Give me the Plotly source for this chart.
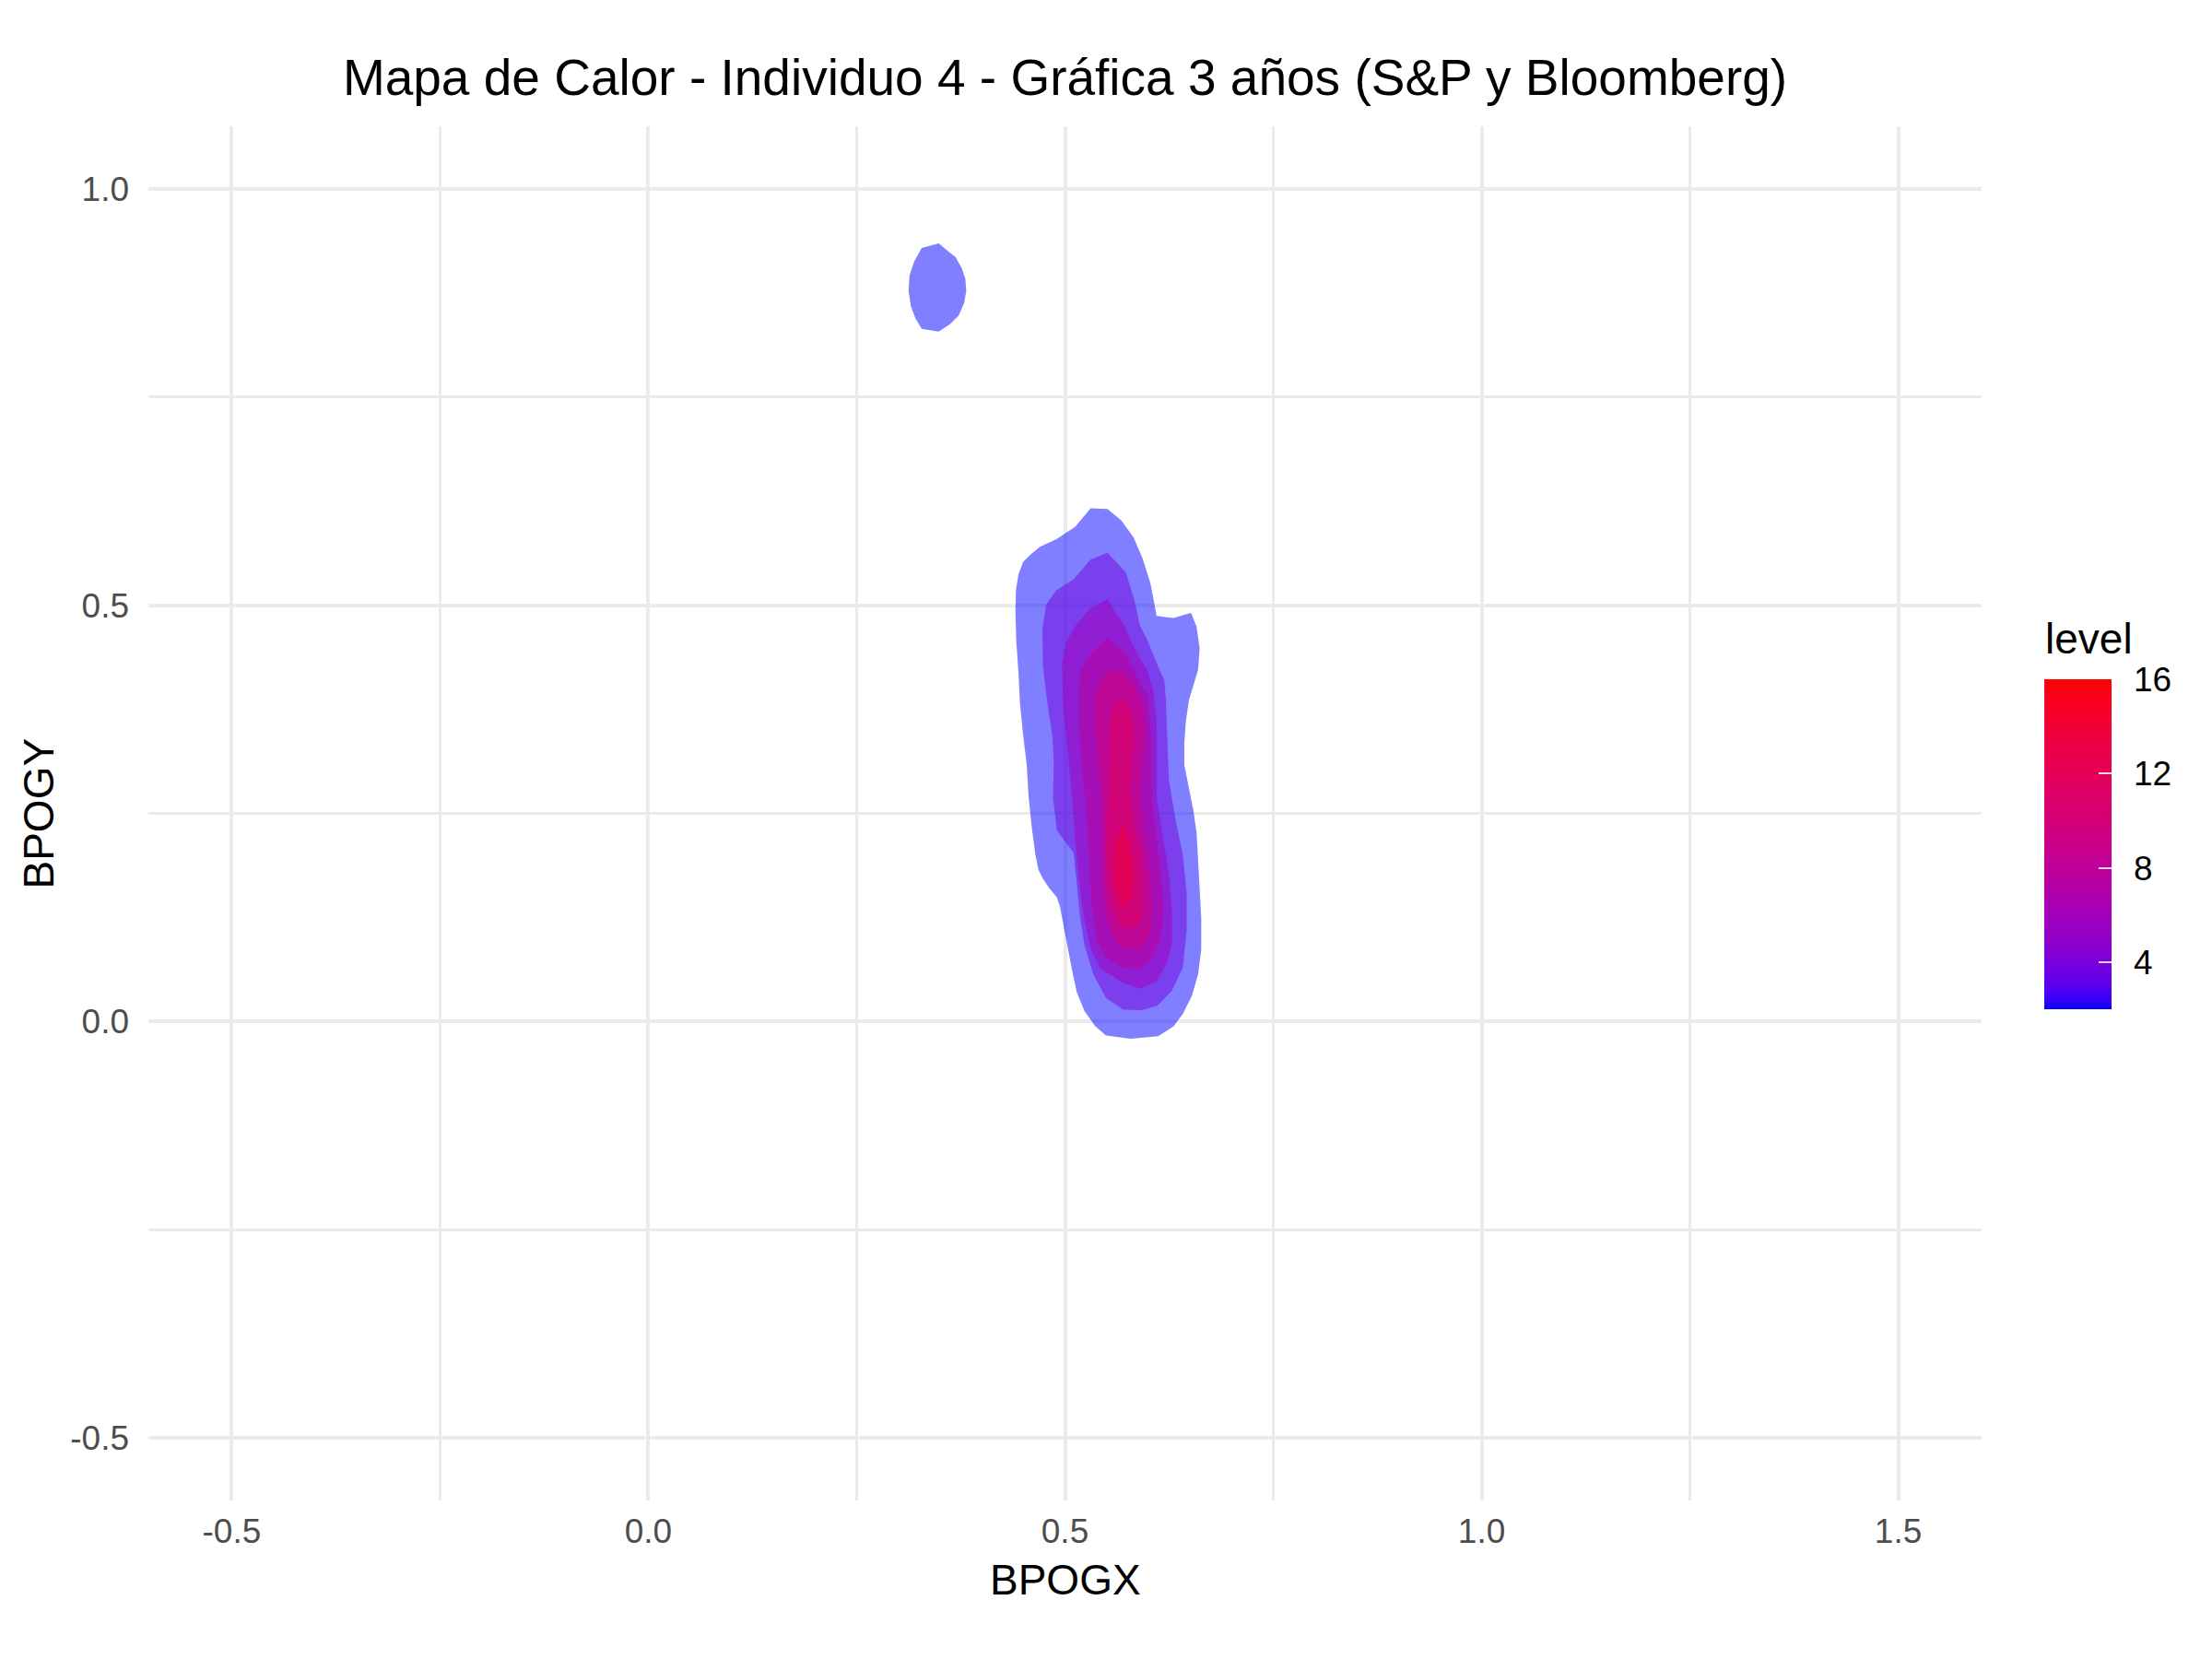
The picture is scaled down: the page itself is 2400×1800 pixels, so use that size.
import plotly.graph_objects as go

# ---------------- data ----------------
level_values = [2, 4, 6, 8, 10, 12, 14]
colorbar_ticks = [4, 8, 12, 16]
colorbar_range = [2, 16]

x_ticks = [-0.5, 0.0, 0.5, 1.0, 1.5]
x_tick_labels = ["-0.5", "0.0", "0.5", "1.0", "1.5"]
y_ticks = [-0.5, 0.0, 0.5, 1.0]
y_tick_labels = ["-0.5", "0.0", "0.5", "1.0"]
minor_x = [-0.25, 0.25, 0.75, 1.25]
minor_y = [-0.25, 0.25, 0.75]

# level 2 : main region
lvl2_x = [0.5308, 0.5511, 0.5677, 0.5824, 0.5934, 0.6026, 0.6100, 0.6303, 0.6513, 0.6579,
          0.6616, 0.6598, 0.6542, 0.6487, 0.6450, 0.6432, 0.6432, 0.6487, 0.6542, 0.6579,
          0.6598, 0.6616, 0.6635, 0.6635, 0.6598, 0.6524, 0.6413, 0.6303, 0.6118, 0.5787,
          0.5492, 0.5363, 0.5234, 0.5142, 0.5087, 0.5031, 0.4976, 0.4939, 0.4902, 0.4810,
          0.4736, 0.4681, 0.4644, 0.4600, 0.4563, 0.4541, 0.4497, 0.4460, 0.4442, 0.4416,
          0.4405, 0.4412, 0.4442, 0.4497, 0.4589, 0.4700, 0.4902, 0.5050, 0.5123]
lvl2_y = [0.6163, 0.6155, 0.6015, 0.5812, 0.5554, 0.5258, 0.4871, 0.4845, 0.4908, 0.4742,
          0.4483, 0.4225, 0.4040, 0.3856, 0.3597, 0.3339, 0.3080, 0.2785, 0.2527, 0.2268,
          0.1973, 0.1604, 0.1235, 0.0866, 0.0570, 0.0312, 0.0090, -0.0057, -0.0175, -0.0205,
          -0.0168, -0.0057, 0.0127, 0.0349, 0.0607, 0.0902, 0.1161, 0.1382, 0.1493, 0.1604,
          0.1715, 0.1825, 0.2010, 0.2342, 0.2711, 0.3080, 0.3450, 0.3819, 0.4188, 0.4557,
          0.4926, 0.5185, 0.5369, 0.5517, 0.5609, 0.5701, 0.5794, 0.5886, 0.5941]

# level 2 : small island near the top
island2_x = [0.3281, 0.3483, 0.3594, 0.3687, 0.3760, 0.3804, 0.3815, 0.3789, 0.3723, 0.3613,
             0.3483, 0.3281, 0.3207, 0.3151, 0.3123, 0.3134, 0.3189]
island2_y = [0.9289, 0.9344, 0.9252, 0.9178, 0.9049, 0.8920, 0.8772, 0.8625, 0.8477, 0.8367,
             0.8285, 0.8318, 0.8440, 0.8588, 0.8772, 0.8957, 0.9123]

lvl4_x = [0.5510, 0.5695, 0.5732, 0.5842, 0.5897, 0.5989, 0.6063, 0.6118, 0.6192, 0.6211,
          0.6229, 0.6247, 0.6321, 0.6413, 0.6461, 0.6461, 0.6413, 0.6284, 0.6111, 0.5916,
          0.5695, 0.5492, 0.5345, 0.5234, 0.5179, 0.5142, 0.5105, 0.4902, 0.4858, 0.4865,
          0.4847, 0.4791, 0.4736, 0.4729, 0.4773, 0.4895, 0.5105, 0.5308]
lvl4_y = [0.5630, 0.5436, 0.5391, 0.5029, 0.4758, 0.4577, 0.4397, 0.4261, 0.4103, 0.3854,
          0.3357, 0.2904, 0.2453, 0.2002, 0.1549, 0.1096, 0.0645, 0.0373, 0.0193, 0.0134,
          0.0147, 0.0283, 0.0554, 0.0916, 0.1277, 0.1639, 0.2023, 0.2295, 0.2679, 0.3130,
          0.3447, 0.3809, 0.4261, 0.4713, 0.5007, 0.5178, 0.5310, 0.5549]

lvl6_x = [0.5510, 0.5602, 0.5713, 0.5787, 0.5879, 0.5989, 0.6063, 0.6100, 0.6100, 0.6100,
          0.6174, 0.6247, 0.6284, 0.6284, 0.6229, 0.6100, 0.5916, 0.5695, 0.5418, 0.5308,
          0.5216, 0.5160, 0.5123, 0.5087, 0.5031, 0.4976, 0.4965, 0.5013, 0.5142, 0.5308]
lvl6_y = [0.5074, 0.4916, 0.4758, 0.4577, 0.4397, 0.4216, 0.3945, 0.3583, 0.3130, 0.2679,
          0.2227, 0.1775, 0.1322, 0.0961, 0.0712, 0.0486, 0.0396, 0.0464, 0.0645, 0.0871,
          0.1322, 0.1775, 0.2182, 0.2679, 0.3266, 0.3809, 0.4306, 0.4555, 0.4780, 0.4961]

lvl8_x = [0.5499, 0.5713, 0.5842, 0.5934, 0.5990, 0.6037, 0.6037, 0.6063, 0.6111, 0.6155,
          0.6185, 0.6148, 0.6045, 0.5897, 0.5676, 0.5492, 0.5374, 0.5326, 0.5300, 0.5282,
          0.5263, 0.5227, 0.5190, 0.5168, 0.5168, 0.5179, 0.5308]
lvl8_y = [0.4600, 0.4442, 0.4193, 0.3990, 0.3936, 0.3382, 0.2829, 0.2460, 0.2091, 0.1722,
          0.1353, 0.0984, 0.0762, 0.0614, 0.0652, 0.0762, 0.0984, 0.1353, 0.1722, 0.2091,
          0.2460, 0.2829, 0.3198, 0.3567, 0.3936, 0.4195, 0.4419]

lvl10_x = [0.5492, 0.5713, 0.5816, 0.5890, 0.5942, 0.5956, 0.5934, 0.5905, 0.5905, 0.5942,
           0.6001, 0.6037, 0.6045, 0.6008, 0.5905, 0.5713, 0.5603, 0.5522, 0.5474, 0.5455,
           0.5448, 0.5448, 0.5426, 0.5389, 0.5363, 0.5363, 0.5411]
lvl10_y = [0.4195, 0.4195, 0.4066, 0.3899, 0.3678, 0.3420, 0.3125, 0.2829, 0.2571, 0.2275,
           0.1943, 0.1611, 0.1279, 0.1021, 0.0854, 0.0880, 0.0984, 0.1168, 0.1426, 0.1722,
           0.2091, 0.2460, 0.2829, 0.3198, 0.3567, 0.3862, 0.4066]

lvl12_x = [0.5695, 0.5779, 0.5824, 0.5832, 0.5809, 0.5779, 0.5787, 0.5831, 0.5890, 0.5927,
           0.5942, 0.5916, 0.5860, 0.5695, 0.5621, 0.5558, 0.5510, 0.5492, 0.5492, 0.5510,
           0.5521, 0.5521, 0.5529, 0.5547, 0.5603]
lvl12_y = [0.3899, 0.3751, 0.3567, 0.3346, 0.3088, 0.2830, 0.2646, 0.2387, 0.2093, 0.1722,
           0.1426, 0.1224, 0.1131, 0.1124, 0.1224, 0.1426, 0.1685, 0.1943, 0.2239, 0.2497,
           0.2718, 0.3014, 0.3346, 0.3641, 0.3825]

lvl14_x = [0.5695, 0.5768, 0.5805, 0.5824, 0.5794, 0.5713, 0.5658, 0.5603, 0.5584, 0.5603]
lvl14_y = [0.2367, 0.2165, 0.1980, 0.1722, 0.1500, 0.1353, 0.1426, 0.1648, 0.1906, 0.2128]

regions = [
    (2, lvl2_x, lvl2_y),
    (2, island2_x, island2_y),
    (4, lvl4_x, lvl4_y),
    (6, lvl6_x, lvl6_y),
    (8, lvl8_x, lvl8_y),
    (10, lvl10_x, lvl10_y),
    (12, lvl12_x, lvl12_y),
    (14, lvl14_x, lvl14_y),
]

# ---------------- colour ramp (blue -> red interpolated in CIELAB) ----------------
M = [[0.4124564, 0.3575761, 0.1804375],
     [0.2126729, 0.7151522, 0.0721750],
     [0.0193339, 0.1191920, 0.9503041]]
MI = [[3.2404542, -1.5371385, -0.4985314],
      [-0.9692660, 1.8760108, 0.0415560],
      [0.0556434, -0.2040259, 1.0572252]]
WHITE = (0.95047, 1.0, 1.08883)


def to_lab(rgb):
    lin = []
    for c in rgb:
        c = c / 255.0
        lin.append(c / 12.92 if c <= 0.04045 else ((c + 0.055) / 1.055) ** 2.4)
    xyz = [sum(M[i][j] * lin[j] for j in range(3)) for i in range(3)]

    def f(t):
        return t ** (1 / 3) if t > (6 / 29) ** 3 else t / (3 * (6 / 29) ** 2) + 4 / 29
    fx, fy, fz = (f(xyz[i] / WHITE[i]) for i in range(3))
    return (116 * fy - 16, 500 * (fx - fy), 200 * (fy - fz))


def from_lab(lab):
    L, a, b = lab
    fy = (L + 16) / 116
    fx = fy + a / 500
    fz = fy - b / 200

    def finv(t):
        return t ** 3 if t > 6 / 29 else 3 * (6 / 29) ** 2 * (t - 4 / 29)
    xyz = [finv(fx) * WHITE[0], finv(fy) * WHITE[1], finv(fz) * WHITE[2]]
    out = []
    for i in range(3):
        c = sum(MI[i][j] * xyz[j] for j in range(3))
        c = min(max(c, 0.0), 1.0)
        c = 12.92 * c if c <= 0.0031308 else 1.055 * c ** (1 / 2.4) - 0.055
        out.append(int(round(min(max(c, 0.0), 1.0) * 255)))
    return tuple(out)


LOW, HIGH = to_lab((0, 0, 255)), to_lab((255, 0, 0))


def ramp(v):
    t = (v - colorbar_range[0]) / (colorbar_range[1] - colorbar_range[0])
    return from_lab(tuple(LOW[i] + (HIGH[i] - LOW[i]) * t for i in range(3)))


colorscale = []
n = 40
for k in range(n + 1):
    v = colorbar_range[0] + (colorbar_range[1] - colorbar_range[0]) * k / n
    r, g, b = ramp(v)
    colorscale.append([k / n, f"rgb({r},{g},{b})"])

# ---------------- figure ----------------
FONT = "Liberation Sans"
fig = go.Figure()

for lev, xs, ys in regions:
    r, g, b = ramp(lev)
    fig.add_trace(go.Scatter(
        x=xs + [xs[0]], y=ys + [ys[0]], mode="lines", fill="toself",
        fillcolor=f"rgba({r},{g},{b},0.5)", line=dict(width=0),
        hoverinfo="skip", showlegend=False))

bar_geom = dict(thickness=73, thicknessmode="pixels", len=358, lenmode="pixels",
                x=1.0342, xanchor="left", y=0.4775, yanchor="middle",
                xpad=0, ypad=0, outlinewidth=0,
                tickmode="array", tickvals=colorbar_ticks,
                ticktext=[str(v) for v in colorbar_ticks])

# colour bar carrier 1: labels, spaced away from the bar
fig.add_trace(go.Scatter(
    x=[0.5], y=[0.5], mode="markers", hoverinfo="skip", showlegend=False,
    marker=dict(size=1, opacity=0, color=[level_values[0]], cmin=colorbar_range[0],
                cmax=colorbar_range[1], colorscale=colorscale, showscale=True,
                colorbar=dict(**bar_geom, ticks="outside", ticklen=17, tickwidth=1,
                              tickcolor="rgba(0,0,0,0)",
                              tickfont=dict(family=FONT, size=37, color="black")))))
# colour bar carrier 2: white tick marks drawn inside the bar
fig.add_trace(go.Scatter(
    x=[0.5], y=[0.5], mode="markers", hoverinfo="skip", showlegend=False,
    marker=dict(size=1, opacity=0, color=[level_values[0]], cmin=colorbar_range[0],
                cmax=colorbar_range[1], colorscale=colorscale, showscale=True,
                colorbar=dict(**bar_geom, ticks="inside", ticklen=14, tickwidth=2,
                              tickcolor="rgba(255,255,255,0.85)", showticklabels=False))))

axis_common = dict(showline=False, zeroline=False, ticks="", showgrid=True,
                   gridcolor="#EBEBEB", gridwidth=4,
                   tickfont=dict(family=FONT, size=37, color="#4D4D4D"))

fig.update_layout(
    width=2400, height=1800,
    margin=dict(l=161, r=250, t=137, b=172),
    paper_bgcolor="white", plot_bgcolor="white",
    title=dict(text="Mapa de Calor - Individuo 4 - Gráfica 3 años (S&P y Bloomberg)",
               x=0.5, xref="paper", xanchor="center",
               y=1 - 84 / 1800, yref="container", yanchor="middle",
               font=dict(family=FONT, size=55, color="black")),
    xaxis=dict(range=[-0.6, 1.6], tickmode="array", tickvals=x_ticks, ticktext=x_tick_labels,
               ticklabelstandoff=8,
               minor=dict(tickmode="array", tickvals=minor_x, showgrid=True,
                          gridcolor="#EBEBEB", gridwidth=2.5, ticks=""),
               **axis_common),
    yaxis=dict(range=[-0.575, 1.075], tickmode="array", tickvals=y_ticks, ticktext=y_tick_labels,
               ticklabelstandoff=20,
               minor=dict(tickmode="array", tickvals=minor_y, showgrid=True,
                          gridcolor="#EBEBEB", gridwidth=2.5, ticks=""),
               **axis_common),
    annotations=[
        dict(text="BPOGX", xref="paper", yref="paper", x=0.5, y=(1628 - 1714) / 1491,
             xanchor="center", yanchor="middle", showarrow=False,
             font=dict(family=FONT, size=46, color="black")),
        dict(text="BPOGY", xref="paper", yref="paper", x=(41 - 161) / 1989, y=0.5,
             xanchor="center", yanchor="middle", showarrow=False, textangle=-90,
             font=dict(family=FONT, size=46, color="black")),
        dict(text="level", xref="paper", yref="paper", x=(2217 - 161) / 1989,
             y=(1628 - 693) / 1491, xanchor="left", yanchor="middle", showarrow=False,
             font=dict(family=FONT, size=46, color="black")),
    ],
)

fig.write_html("out.html")
